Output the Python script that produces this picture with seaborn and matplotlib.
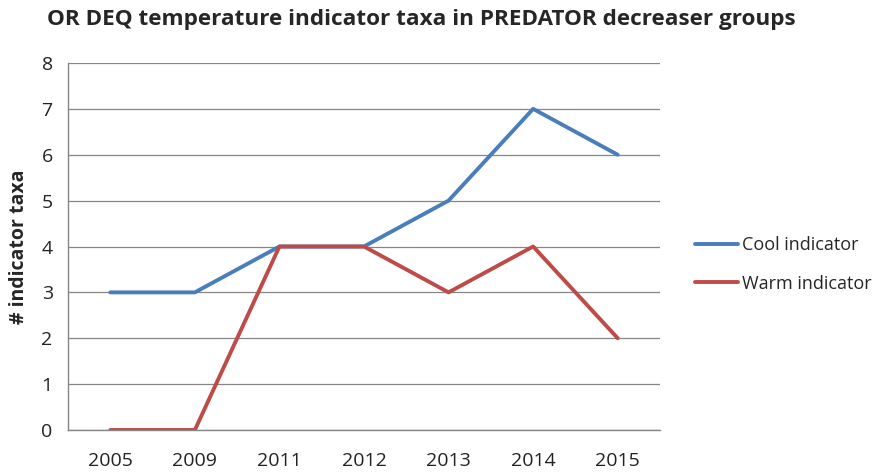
import numpy as np
import pandas as pd
import matplotlib
matplotlib.use("Agg")
import matplotlib.pyplot as plt
import seaborn as sns

# data
years = ["2005", "2009", "2011", "2012", "2013", "2014", "2015"]
cool = [3, 3, 4, 4, 5, 7, 6]
warm = [0, 0, 4, 4, 3, 4, 2]
series_names = ["Cool indicator", "Warm indicator"]
series_colors = ["#4A7EBB", "#BE4B48"]

df = pd.DataFrame({
    "pos": list(range(len(years))) * 2,
    "value": cool + warm,
    "series": [series_names[0]] * len(years) + [series_names[1]] * len(years),
})

sns.set_style("white")
plt.rcParams["font.family"] = ["Open Sans", "DejaVu Sans"]

fig = plt.figure(figsize=(8.8, 4.72), dpi=100)
ax = fig.add_axes([68 / 880, 1 - 430 / 472, (660 - 68) / 880, (430 - 63) / 472])

sns.lineplot(data=df, x="pos", y="value", hue="series",
             palette=dict(zip(series_names, series_colors)),
             linewidth=2.8, ax=ax, legend=False)

ax.set_xlim(-0.5, len(years) - 0.5)
ax.set_ylim(0, 8)
ax.set_yticks(range(0, 9))
ax.set_xticks(range(len(years)))
ax.set_xticklabels(years)
ax.set_xticks(np.arange(-0.5, len(years), 1), minor=True)
ax.tick_params(axis="x", which="major", length=0, labelsize=14, pad=16, colors="#222222")
ax.tick_params(axis="x", which="minor", length=5, color="#868686", width=1, direction="out")
ax.tick_params(axis="y", length=5, labelsize=14, pad=6, colors="#222222", direction="out")
ax.tick_params(axis="y", color="#868686")
ax.yaxis.grid(True, color="#868686", linewidth=0.9)
ax.set_axisbelow(True)
for side in ["top", "right"]:
    ax.spines[side].set_visible(False)
for side in ["left", "bottom"]:
    ax.spines[side].set_color("#868686")
    ax.spines[side].set_linewidth(1)

ax.set_xlabel("")
ax.set_ylabel("# indicator taxa", fontsize=14, fontweight="bold", labelpad=9)

fig.suptitle("OR DEQ temperature indicator taxa in PREDATOR decreaser groups",
             x=0.479, y=0.98, fontsize=16.2, fontweight="bold")

handles = [plt.Line2D([], [], color=c, linewidth=2.8) for c in series_colors]
fig.legend(handles, series_names, loc="center left", bbox_to_anchor=(0.771, 0.44),
           frameon=False, fontsize=13, handlelength=2.4, handletextpad=0.2,
           labelspacing=1.15)

fig.savefig("out.png", dpi=100)
